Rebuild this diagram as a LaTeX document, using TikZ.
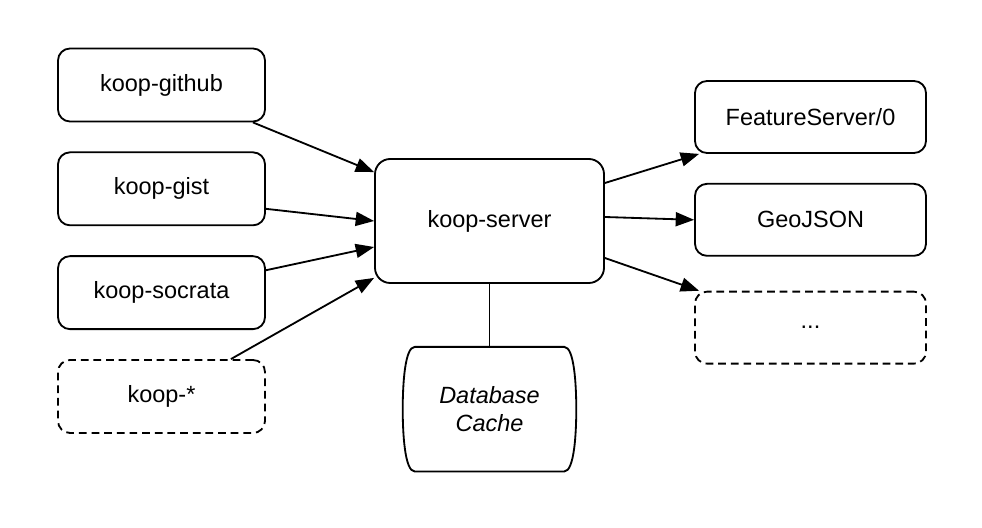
\documentclass[tikz,border=0pt]{standalone}
\usepackage{fontspec}
\setmainfont{Liberation Sans}
\usepackage{tikz}
\usetikzlibrary{arrows.meta, positioning}

\begin{document}
\begin{tikzpicture}[
        node distance=0.725cm and 2.75cm,
        font=\fontsize{16.7}{20}\selectfont,
        box/.style={rectangle, draw=black, line width=1.3pt, minimum width=5.175cm, minimum height=1.825cm, align=center, rounded corners=0.3cm},
        outbox/.style={box, minimum width=5.775cm, minimum height=1.8cm},
        srvbox/.style={box, minimum width=5.725cm, minimum height=3.1cm, rounded corners=0.38cm},
        more/.style={dash pattern=on 5.5pt off 3.5pt},
        side/.style={out looseness=0.4, in looseness=1},
        arrow/.style={-{Triangle[length=4.6mm, width=3.5mm]}, line width=1.3pt, draw=black},
    ]
        \useasboundingbox (0,0) rectangle (24.55,-13.2);

        % Server
        \node[srvbox] (server) at (12.2375,-5.525) {koop-server};

        % Providers
        \node[box] (github) at (4.0375,-2.125) {koop-github};
        \node[box, below=0.725cm of github] (gist) {koop-gist};
        \node[box, below=0.725cm of gist] (socrata) {koop-socrata};
        \node[box, more, below=0.725cm of socrata] (koopany) {koop-*};

        % Outputs
        \node[outbox] (feature) at (20.2625,-2.925) {FeatureServer/0};
        \node[outbox, below=0.725cm of feature] (geojson) {GeoJSON};
        \node[outbox, more, below=0.85cm of geojson] (dots) {...};

        % Cache
        \node[minimum width=4.325cm, minimum height=3.1cm, align=center, font=\fontsize{16.7}{20}\selectfont\itshape, below=1.575cm of server] (cache) {Database\\Cache};
        \draw[line width=1.3pt] ([xshift=0.3cm]cache.north west) -- ([xshift=-0.3cm]cache.north east)
            to[out=0, in=90, side] (cache.east) to[out=-90, in=0, in looseness=0.4, out looseness=1] ([xshift=-0.3cm]cache.south east)
            -- ([xshift=0.3cm]cache.south west)
            to[out=180, in=-90, side] (cache.west) to[out=90, in=180, in looseness=0.4, out looseness=1] ([xshift=0.3cm]cache.north west) -- cycle;

        % Arrows
        \draw[arrow] ([xshift=-0.325cm]github.south east) -- ([yshift=-0.35cm]server.north west);
        \draw[arrow] ([yshift=-0.5cm]gist.east) -- (server.west);
        \draw[arrow] ([yshift=0.56cm]socrata.east) -- ([yshift=-0.65cm]server.west);
        \draw[arrow] ([xshift=-0.875cm]koopany.north east) -- ([yshift=0.15cm]server.south west);
        \draw[arrow] ([yshift=0.95cm]server.east) -- ([xshift=0.125cm]feature.south west);
        \draw[arrow] ([yshift=0.1cm]server.east) -- (geojson.west);
        \draw[arrow] ([yshift=-0.925cm]server.east) -- ([xshift=0.125cm]dots.north west);
        \draw[line width=1.3pt] (server.south) -- (cache.north);
    \end{tikzpicture}
\end{document}
